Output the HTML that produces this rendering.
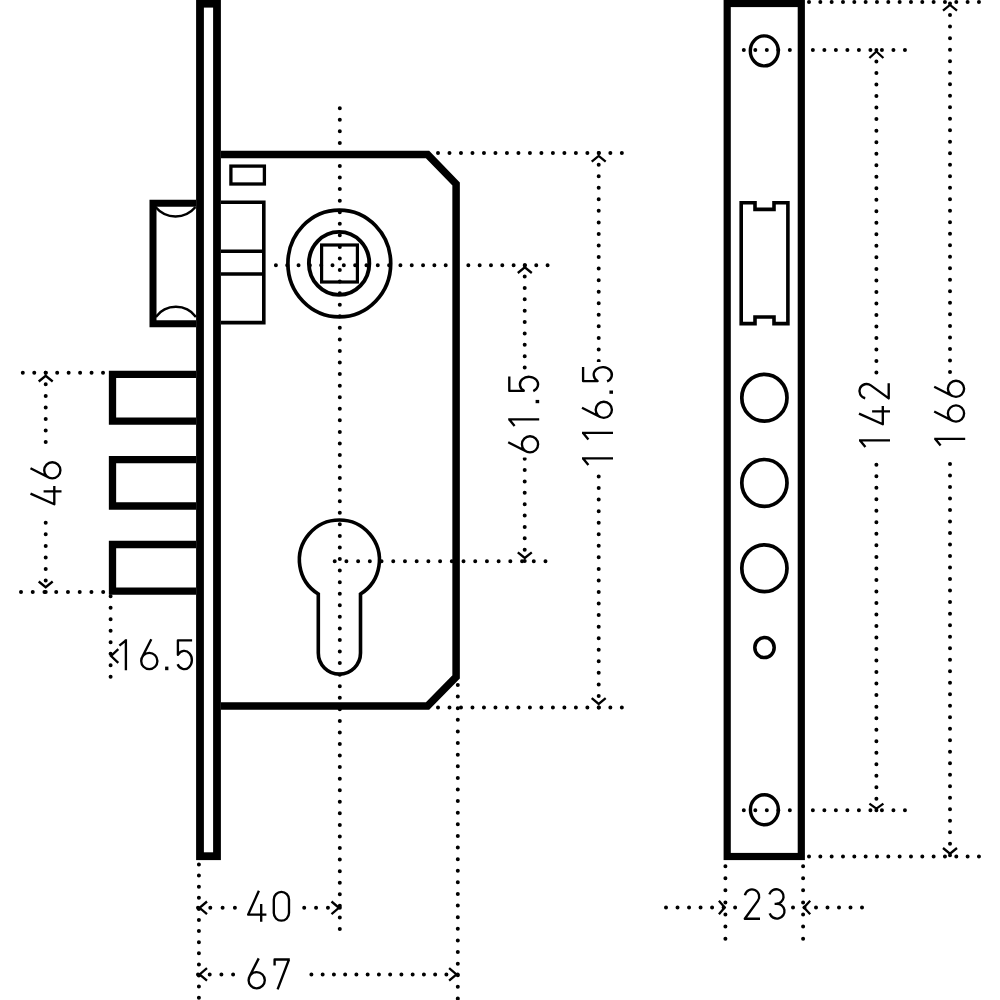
<!DOCTYPE html>
<html><head><meta charset="utf-8"><title>Mortise lock dimensions</title>
<style>html,body{margin:0;padding:0;background:#fff;width:1000px;height:1000px;overflow:hidden;font-family:"Liberation Sans",sans-serif}svg{display:block}</style>
</head><body>
<svg width="1000" height="1000" viewBox="0 0 1000 1000">
<rect width="1000" height="1000" fill="#fff"/>
<g fill="none" stroke="#000" stroke-linejoin="miter" stroke-linecap="butt"><rect x="200" y="3.7" width="17" height="852.5" stroke-width="7.8"/><path d="M221 154.6 H427.6 L456.1 184 V677 L427.6 706 H221" stroke-width="7.5" stroke-linejoin="miter"/><path d="M196 203.3 H153 V323.7 H196" stroke-width="7"/><path d="M196 374.3 H112.5 V421.2 H196" stroke-width="7.3"/><path d="M196 459.6 H112.5 V506 H196" stroke-width="7.3"/><path d="M196 544.5 H112.5 V591.2 H196" stroke-width="7.3"/><rect x="727.2" y="3.5" width="74.1" height="853" stroke-width="7.2"/><rect x="230.9" y="166.1" width="33.5" height="17.9" stroke-width="3.3"/><path d="M221 202.3 H263.8 V322.6 H221 M221 251.3 H263.8 M221 274 H263.8" stroke-width="3.6"/><path d="M155.5 207 A26 26 0 0 0 195.5 207" stroke-width="2.5"/><path d="M155.8 317 A25 25 0 0 1 196 317" stroke-width="2.5"/><ellipse cx="339.3" cy="263.5" rx="51.4" ry="53.4" stroke-width="3.7"/><ellipse cx="339.1" cy="263.4" rx="30.2" ry="31.5" stroke-width="3.9"/><rect x="321.6" y="245" width="35.8" height="37" stroke-width="3.2"/><path d="M318.3 594 A40 40 0 1 1 360.5 594 V653 A21.1 21.1 0 0 1 318.3 653 Z" stroke-width="3.6"/><ellipse cx="764.3" cy="50.9" rx="14" ry="15" stroke-width="3.4"/><ellipse cx="764.4" cy="809.8" rx="14" ry="15" stroke-width="3.4"/><path d="M741.2 202.8 H755 V209.4 H774 V202.8 H787.9 V323.6 H774 V317 H755 V323.6 H741.2 Z" stroke-width="3.6"/><ellipse cx="764.4" cy="397.7" rx="22.6" ry="23.4" stroke-width="3.7"/><ellipse cx="764.4" cy="482.9" rx="22.6" ry="23.4" stroke-width="3.7"/><ellipse cx="764.4" cy="568.2" rx="22.6" ry="23.4" stroke-width="3.7"/><ellipse cx="764.5" cy="647.6" rx="9.7" ry="10" stroke-width="3.5"/></g>
<g fill="none" stroke="#000" stroke-width="4" stroke-linecap="round"><line x1="339.8" y1="108.2" x2="339.8" y2="929.4" stroke-dasharray="0 11.56"/><line x1="275.9" y1="265.2" x2="548" y2="265.2" stroke-dasharray="0 11.32"/><line x1="334.7" y1="561.2" x2="545.9" y2="561.2" stroke-dasharray="0 11.71"/><line x1="524.7" y1="265.2" x2="524.7" y2="561.6" stroke-dasharray="0 11.38"/><line x1="438" y1="153.1" x2="622.2" y2="153.1" stroke-dasharray="0 11.49"/><line x1="438" y1="707.4" x2="622.2" y2="707.4" stroke-dasharray="0 11.49"/><line x1="598.7" y1="153.1" x2="598.7" y2="707.8" stroke-dasharray="0 11.55"/><line x1="457.8" y1="685" x2="457.8" y2="998.8" stroke-dasharray="0 11.61"/><line x1="22.8" y1="372.8" x2="103.4" y2="372.8" stroke-dasharray="0 11.46"/><line x1="21" y1="592" x2="103.6" y2="592" stroke-dasharray="0 11.74"/><line x1="45.7" y1="372.8" x2="45.7" y2="592.4" stroke-dasharray="0 11.54"/><line x1="110.6" y1="596.2" x2="110.6" y2="677" stroke-dasharray="0 11.49"/><line x1="198.9" y1="864.5" x2="198.9" y2="998.1" stroke-dasharray="0 11.1"/><line x1="198" y1="907.8" x2="235.3" y2="907.8" stroke-dasharray="0 12.3"/><line x1="304.2" y1="907.8" x2="340.2" y2="907.8" stroke-dasharray="0 11.87"/><line x1="198" y1="974.4" x2="233.5" y2="974.4" stroke-dasharray="0 11.7"/><line x1="311.4" y1="974.4" x2="458" y2="974.4" stroke-dasharray="0 11.25"/><line x1="809" y1="2" x2="979.4" y2="2" stroke-dasharray="0 11.33"/><line x1="743.8" y1="50" x2="905.4" y2="50" stroke-dasharray="0 11.51"/><line x1="743.8" y1="810.2" x2="905.4" y2="810.2" stroke-dasharray="0 11.51"/><line x1="876.4" y1="50" x2="876.4" y2="810.6" stroke-dasharray="0 11.52"/><line x1="950" y1="3.6" x2="950" y2="855.9" stroke-dasharray="0 11.51"/><line x1="809" y1="856.4" x2="979.4" y2="856.4" stroke-dasharray="0 11.33"/><line x1="725.4" y1="866.2" x2="725.4" y2="939.1" stroke-dasharray="0 12.08"/><line x1="803.1" y1="866.2" x2="803.1" y2="939.1" stroke-dasharray="0 12.08"/><line x1="666" y1="907.5" x2="735.5" y2="907.5" stroke-dasharray="0 11.52"/><line x1="793" y1="907.5" x2="862.4" y2="907.5" stroke-dasharray="0 11.5"/></g>
<g fill="none" stroke="#000" stroke-width="2.3" stroke-linecap="butt" stroke-linejoin="miter"><path d="M38.7 381.5 L45.7 375.8 L52.7 381.5"/><path d="M38.7 581.5 L45.7 587.2 L52.7 581.5"/><path d="M118.3 649.2 L111.1 656 L118.3 662.8"/><path d="M517.8 273 L524.8 267.3 L531.8 273"/><path d="M517.8 552.3 L524.8 558 L531.8 552.3"/><path d="M591.7 161.6 L598.7 155.9 L605.7 161.6"/><path d="M591.7 698.2 L598.7 703.9 L605.7 698.2"/><path d="M207 901.5 L199.6 907.8 L207 914.1"/><path d="M331.5 901.5 L338.9 907.8 L331.5 914.1"/><path d="M207 968.1 L199.6 974.4 L207 980.7"/><path d="M449.1 968.1 L456.5 974.4 L449.1 980.7"/><path d="M943 10.6 L950 4.9 L957 10.6"/><path d="M943 848 L950 853.7 L957 848"/><path d="M869.4 58 L876.4 51.5 L883.4 58"/><path d="M869.4 803.6 L876.4 808.7 L883.4 803.6"/><path d="M718.9 900.7 L724.7 907.5 L718.9 914.3"/><path d="M810.2 900.7 L804 907.5 L810.2 914.3"/></g>
<g fill="none" stroke="#000" stroke-width="2.35" stroke-linecap="butt" stroke-linejoin="round"><g transform="translate(61.5 505) rotate(-90)"><rect x="-11" y="-35" width="66.1" height="39" fill="#fff" stroke="none"/><path transform="translate(0 0)" d="M11.4 -31 L0.7 -7.2 H18.9 M13.7 -17.9 V0"/><path transform="translate(25.5 0)" d="M11.2 -31 L1.98 -12.87 M1.1 -9.2 A8.1 8.1 0 1 0 17.3 -9.2 A8.1 8.1 0 1 0 1.1 -9.2"/></g><g transform="translate(118.8 670.2)"><path transform="translate(0 0)" d="M7.1 0V-31 M7.1 -29.9 L0.6 -24.6"/><path transform="translate(21.3 0)" d="M11.2 -31 L1.98 -12.87 M1.1 -9.2 A8.1 8.1 0 1 0 17.3 -9.2 A8.1 8.1 0 1 0 1.1 -9.2"/><path d="M46.3 -3.6 h3.3 v3.6 h-3.3 Z" fill="#000" stroke="none"/><path transform="translate(57.2 0)" d="M16.1 -29.9 H1.9 V-15.42 L2.07 -15.42 A7.6 9.1 0 1 1 1.59 -5.93"/></g><g transform="translate(539.2 453.5) rotate(-90)"><rect x="-4" y="-35" width="85.8" height="39" fill="#fff" stroke="none"/><path transform="translate(0 0)" d="M11.2 -31 L1.98 -12.87 M1.1 -9.2 A8.1 8.1 0 1 0 17.3 -9.2 A8.1 8.1 0 1 0 1.1 -9.2"/><path transform="translate(27 0)" d="M7.1 0V-31 M7.1 -29.9 L0.6 -24.6"/><path d="M50.3 -3.6 h3.3 v3.6 h-3.3 Z" fill="#000" stroke="none"/><path transform="translate(60.8 0)" d="M16.1 -29.9 H1.9 V-15.42 L2.07 -15.42 A7.6 9.1 0 1 1 1.59 -5.93"/></g><g transform="translate(613 465.5) rotate(-90)"><rect x="-4" y="-35" width="107.5" height="39" fill="#fff" stroke="none"/><path transform="translate(0 0)" d="M7.1 0V-31 M7.1 -29.9 L0.6 -24.6"/><path transform="translate(25.5 0)" d="M7.1 0V-31 M7.1 -29.9 L0.6 -24.6"/><path transform="translate(46.5 0)" d="M11.2 -31 L1.98 -12.87 M1.1 -9.2 A8.1 8.1 0 1 0 17.3 -9.2 A8.1 8.1 0 1 0 1.1 -9.2"/><path d="M71.7 -3.6 h3.3 v3.6 h-3.3 Z" fill="#000" stroke="none"/><path transform="translate(82.5 0)" d="M16.1 -29.9 H1.9 V-15.42 L2.07 -15.42 A7.6 9.1 0 1 1 1.59 -5.93"/></g><g transform="translate(247.5 921.8)"><path transform="translate(0 0)" d="M11.4 -31 L0.7 -7.2 H18.9 M13.7 -17.9 V0"/><path transform="translate(25.2 0)" d="M1.1 -22.3 A7.6 7.6 0 0 1 16.3 -22.3 V-8.7 A7.6 7.6 0 0 1 1.1 -8.7 Z"/></g><g transform="translate(247.5 989.4)"><path transform="translate(0 0)" d="M11.2 -31 L1.98 -12.87 M1.1 -9.2 A8.1 8.1 0 1 0 17.3 -9.2 A8.1 8.1 0 1 0 1.1 -9.2"/><path transform="translate(25.7 0)" d="M1.4 -24 V-29.9 H16.6 M15.8 -29.9 L4.4 0"/></g><g transform="translate(743.7 920)"><path transform="translate(0 0)" d="M1.23 -24.77 A7.2 7.2 0 1 1 14.12 -19.16 L1.1 -1.3 H16.3"/><path transform="translate(24.3 0)" d="M1.37 -25.57 A7.25 7.25 0 1 1 8.3 -16.2 H6.6 M8.3 -16.2 A7.6 7.4 0 1 1 1.67 -6.51"/></g><g transform="translate(890 447.5) rotate(-90)"><rect x="-10" y="-35" width="80.5" height="39" fill="#fff" stroke="none"/><path transform="translate(0 0)" d="M7.1 0V-31 M7.1 -29.9 L0.6 -24.6"/><path transform="translate(22.5 0)" d="M11.4 -31 L0.7 -7.2 H18.9 M13.7 -17.9 V0"/><path transform="translate(48 0)" d="M1.23 -24.77 A7.2 7.2 0 1 1 14.12 -19.16 L1.1 -1.3 H16.3"/></g><g transform="translate(965.2 446) rotate(-90)"><rect x="-10" y="-35" width="80.6" height="39" fill="#fff" stroke="none"/><path transform="translate(0 0)" d="M7.1 0V-31 M7.1 -29.9 L0.6 -24.6"/><path transform="translate(23.3 0)" d="M11.2 -31 L1.98 -12.87 M1.1 -9.2 A8.1 8.1 0 1 0 17.3 -9.2 A8.1 8.1 0 1 0 1.1 -9.2"/><path transform="translate(48 0)" d="M11.2 -31 L1.98 -12.87 M1.1 -9.2 A8.1 8.1 0 1 0 17.3 -9.2 A8.1 8.1 0 1 0 1.1 -9.2"/></g></g>
</svg>
</body></html>
